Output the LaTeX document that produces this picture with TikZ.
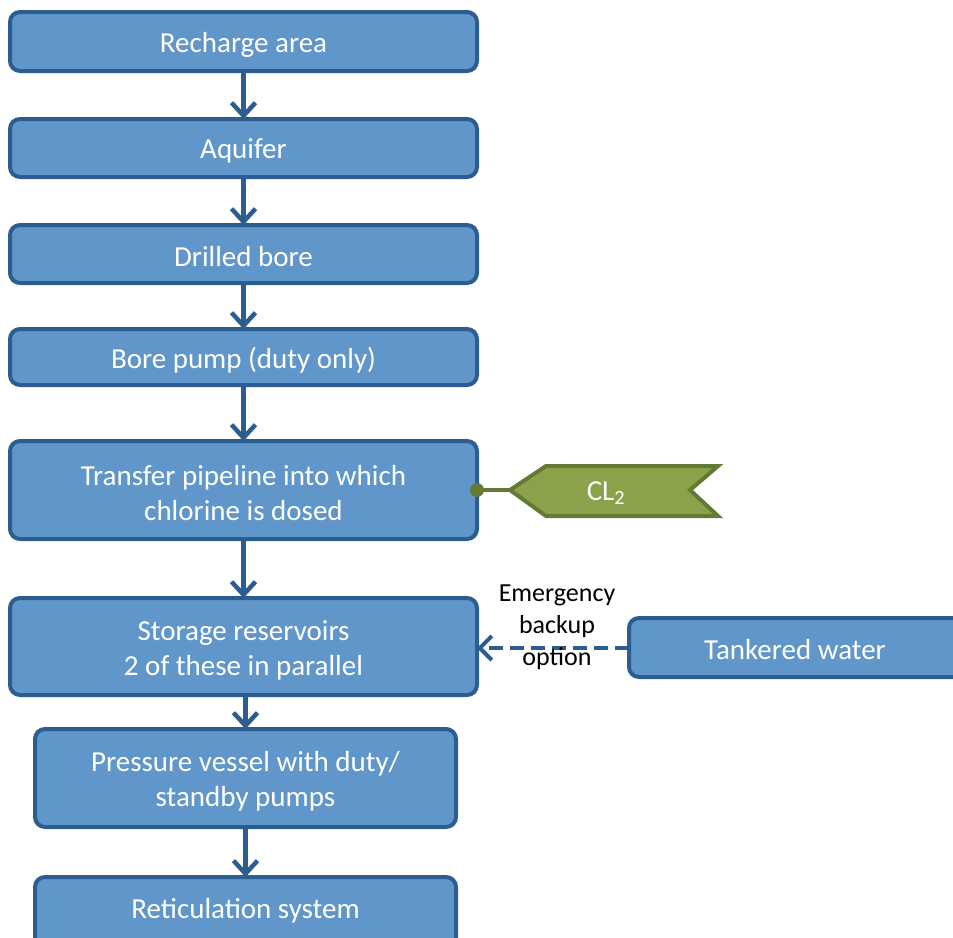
\documentclass[tikz,border=0pt]{standalone}
\usepackage{fontspec}
\setmainfont{Carlito}
\usetikzlibrary{arrows.meta}
\definecolor{boxfill}{HTML}{6096C9}
\definecolor{boxline}{HTML}{2C5D91}
\definecolor{grfill}{HTML}{8AA34A}
\definecolor{grline}{HTML}{637A34}
\tikzset{
  boxfont/.style={font=\fontsize{29}{35}\selectfont},
  flowbox/.style={draw=boxline, fill=boxfill, line width=4pt, rounded corners=10pt,
    minimum width=467pt, inner sep=0pt, outer sep=0pt, text=white, align=center, boxfont},
  boxtext/.style={text=white, align=center, inner sep=0pt, boxfont},
  flowarrow/.style={draw=boxline, line width=4.5pt, -{Straight Barb[length=13pt,width=24pt,line width=4.5pt]}},
  dasharrow/.style={draw=boxline, line width=4pt, dash pattern=on 14pt off 7pt,
    -{Straight Barb[length=12pt,width=24pt,line width=4pt]}},
  notetext/.style={text=black, align=center, font=\fontsize{26}{32}\selectfont, inner sep=0pt}
}
\begin{document}
\begin{tikzpicture}[x=1pt,y=-1pt]
\useasboundingbox (0,0) rectangle (953,937);
\clip (0,0) rectangle (953,937);
\node[flowbox, minimum height=59pt] (recharge) at (243.5,41.5) {};
\node[boxtext] at (243.5,45) {Recharge area};
\node[flowbox, minimum height=58pt] (aquifer) at (243.5,148) {};
\node[boxtext] at (243.5,151) {Aquifer};
\node[flowbox, minimum height=58pt] (drilled) at (243.5,254) {};
\node[boxtext] at (243.5,257) {Drilled bore};
\node[flowbox, minimum height=56pt] (pump) at (243.5,357) {};
\node[boxtext] at (243.5,360) {Bore pump (duty only)};
\node[flowbox, minimum height=98pt] (transfer) at (243.5,490) {};
\node[boxtext] at (243.5,493) {Transfer pipeline into which\\chlorine is dosed};
\node[flowbox, minimum height=97pt] (storage) at (243.5,646.5) {};
\node[boxtext] at (243.5,650) {Storage reservoirs\\2 of these in parallel};
\node[flowbox, minimum height=98pt, minimum width=421pt] (pressure) at (245.5,778) {};
\node[boxtext] at (245.5,781) {Pressure vessel with duty/\\standby pumps};
\node[flowbox, minimum height=122pt, minimum width=421pt] (retic) at (245.5,938) {};
\node[boxtext] at (245.5,911) {Reticulation system};
\node[flowbox, minimum height=59pt, minimum width=371pt] (tanker) at (814.5,647.5) {};
\node[boxtext] at (795,650) {Tankered water};

\draw[flowarrow] (recharge.south) -- (aquifer.north);
\draw[flowarrow] (aquifer.south) -- (drilled.north);
\draw[flowarrow] (drilled.south) -- (pump.north);
\draw[flowarrow] (pump.south) -- (transfer.north);
\draw[flowarrow] (transfer.south) -- (storage.north);
\draw[flowarrow] (pressure.north |- storage.south) -- (pressure.north);
\draw[flowarrow] (pressure.south) -- (retic.north);

\draw[dasharrow] (tanker.west |- 0,648) -- (storage.east |- 0,648);
\node[notetext] (note) at (557,627) {Emergency\\backup\\option};

% CL2 flag
\coordinate (cltip) at (510,490);
\draw[grline, line width=4pt, fill=grfill, line join=miter]
  (cltip) -- (546,466) -- (718,466) -- (690,490) -- (718,516) -- (546,516) -- cycle;
\node[boxtext] (cl) at (606,493) {CL\textsubscript{2}};
\coordinate (dot) at (transfer.east);
\draw[grline, line width=4pt] (dot) -- (cltip);
\fill[grline] (dot) circle (7pt);
\end{tikzpicture}
\end{document}
